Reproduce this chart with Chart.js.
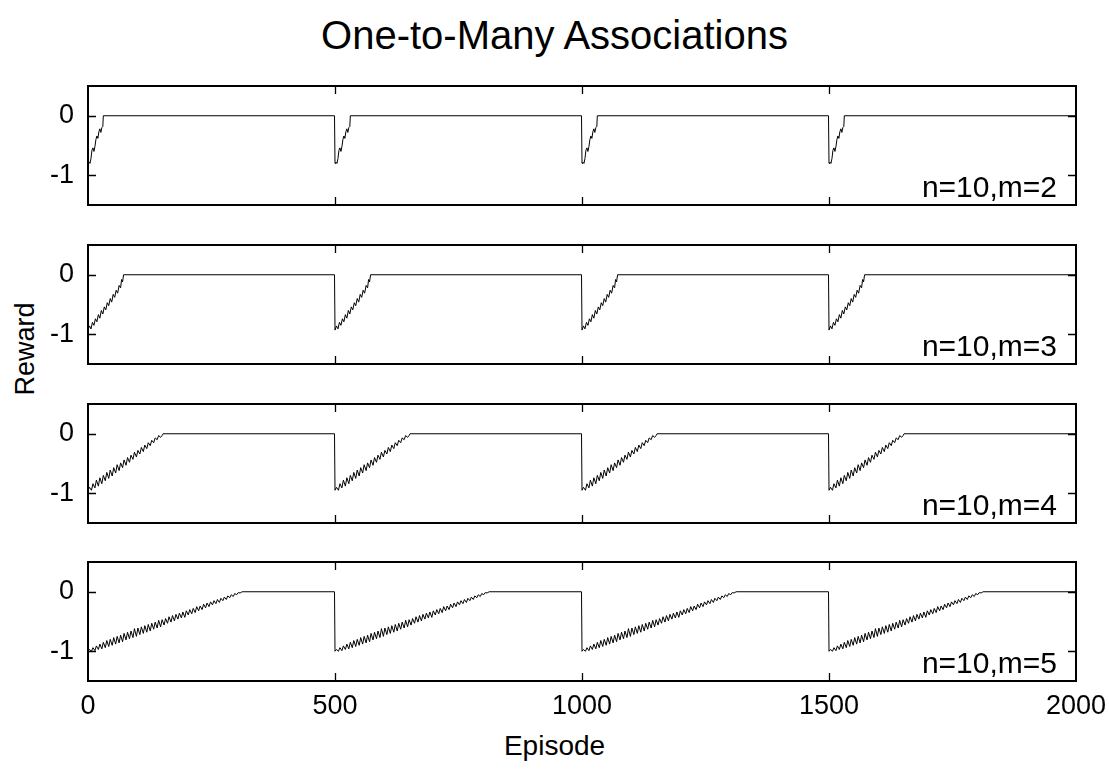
<!DOCTYPE html>
<html><head><meta charset="utf-8">
<script src="https://cdn.jsdelivr.net/npm/chart.js@4.4.1/dist/chart.umd.min.js"></script>
<style>
html,body{margin:0;padding:0;background:#fff;}
body{width:1109px;height:775px;position:relative;overflow:hidden;font-family:"Liberation Sans",Arial,sans-serif;}
canvas{position:absolute;left:0;}
.t{position:absolute;color:#000;white-space:nowrap;line-height:1;}
#title{font-size:40px;left:554.5px;top:15px;transform:translateX(-50%);}
#xlab{font-size:28px;left:554.5px;top:732px;transform:translateX(-50%);}
#ylab{font-size:27px;left:25px;top:349px;transform:translate(-50%,-50%) rotate(-90deg);}
</style></head><body>
<div class="t" id="title">One-to-Many Associations</div>
<div class="t" id="ylab">Reward</div>
<div class="t" id="xlab">Episode</div>
<canvas id="c0"></canvas>
<canvas id="c1"></canvas>
<canvas id="c2"></canvas>
<canvas id="c3"></canvas>
<script>
// ---- data ----
const blockStarts = [0, 500, 1000, 1500];
const episodeMax = 2000;
const xTickValues = [0, 500, 1000, 1500, 2000];
const yTickValues = [-1, 0];
const panelLabels = ["n=10,m=2", "n=10,m=3", "n=10,m=4", "n=10,m=5"];

// reward within one block (episode offset from block start)
const m2Offsets = [0,2,4,6,8,10,12,14,16,18,20,22,24,26,28,30,31];
const m2Rewards = [-0.80,-0.78,-0.80,-0.72,-0.58,-0.54,-0.60,-0.52,-0.40,-0.34,-0.38,-0.27,-0.22,-0.28,-0.20,-0.18,0];

const m3Offsets = [0,3,6,9,12,15,18,21,24,27,30,33,36,39,42,45,48,51,54,57,60,63,66,68,70,72];
const m3Rewards = [-0.93,-0.86,-0.91,-0.80,-0.85,-0.74,-0.79,-0.67,-0.73,-0.60,-0.66,-0.54,-0.59,-0.47,-0.52,-0.40,-0.46,-0.33,-0.38,-0.26,-0.31,-0.18,-0.22,-0.08,-0.12,0];

const m4Offsets = [0,3,7,10,14,17,21,24,28,31,35,38,42,45,49,52,56,59,63,66,70,73,77,80,84,87,91,94,98,101,105,108,112,115,119,122,126,129,133,136,140,143,147,150,152];
const m4Rewards = [-0.95,-0.90,-0.95,-0.84,-0.91,-0.78,-0.88,-0.74,-0.84,-0.70,-0.79,-0.65,-0.75,-0.61,-0.71,-0.57,-0.66,-0.52,-0.62,-0.49,-0.57,-0.44,-0.53,-0.40,-0.48,-0.36,-0.43,-0.31,-0.39,-0.28,-0.34,-0.23,-0.30,-0.19,-0.25,-0.15,-0.20,-0.11,-0.15,-0.07,-0.10,-0.03,-0.06,-0.03,0];

const m5Offsets = [0,3,7,10,14,17,21,24,28,31,35,38,42,45,49,52,56,59,63,66,70,73,77,80,84,87,91,94,98,101,105,108,112,115,119,122,126,129,133,136,140,143,147,150,154,157,161,164,168,171,175,178,182,185,189,192,196,199,203,206,210,213,217,220,224,227,231,234,238,241,245,248,252,255,259,262,266,269,273,276,280,283,287,290,294,297,301,304,308,312];
const m5Rewards = [-1.00,-0.97,-1.00,-0.94,-0.99,-0.91,-0.97,-0.88,-0.96,-0.85,
  -0.94,-0.82,-0.92,-0.80,-0.90,-0.77,-0.88,-0.75,-0.86,-0.73,
  -0.84,-0.70,-0.81,-0.68,-0.79,-0.66,-0.77,-0.62,-0.75,-0.61,
  -0.72,-0.59,-0.70,-0.57,-0.68,-0.55,-0.66,-0.53,-0.63,-0.51,
  -0.61,-0.48,-0.59,-0.47,-0.56,-0.45,-0.53,-0.42,-0.51,-0.40,
  -0.49,-0.38,-0.46,-0.36,-0.44,-0.34,-0.43,-0.32,-0.39,-0.30,
  -0.37,-0.28,-0.35,-0.25,-0.32,-0.24,-0.30,-0.21,-0.27,-0.19,
  -0.25,-0.17,-0.22,-0.15,-0.20,-0.13,-0.18,-0.11,-0.15,-0.09,
  -0.13,-0.07,-0.10,-0.05,-0.08,-0.03,-0.05,-0.015,-0.02,0];

const panelOffsets = [m2Offsets, m3Offsets, m4Offsets, m5Offsets];
const panelRewards = [m2Rewards, m3Rewards, m4Rewards, m5Rewards];

// ---- layout ----
const W = 1109;
const panelTops = [86, 245, 404, 562];
const panelH = 119;
const areaLeft = 88, areaRight = 1076;
const FONT = '"Liberation Sans", Arial, sans-serif';

function buildSeries(offs, rews) {
  const pts = [];
  blockStarts.forEach((b, k) => {
    if (k > 0) pts.push({x: b - 1, y: 0});
    for (let j = 0; j < offs.length; j++) pts.push({x: b + offs[j], y: rews[j]});
  });
  pts.push({x: episodeMax, y: 0});
  return pts;
}

const framePlugin = {
  id: 'frame',
  afterDraw(chart, args, opts) {
    const {ctx, chartArea: a, scales} = chart;
    ctx.save();
    ctx.strokeStyle = '#000';
    ctx.lineWidth = 1.3;
    const tl = 8;
    ctx.beginPath();
    xTickValues.forEach(v => {
      if (v <= 0 || v >= episodeMax) return;
      const px = Math.round(scales.x.getPixelForValue(v)) + 0.5;
      ctx.moveTo(px, a.bottom); ctx.lineTo(px, a.bottom - tl);
      ctx.moveTo(px, a.top); ctx.lineTo(px, a.top + tl);
    });
    yTickValues.forEach(v => {
      const py = Math.round(scales.y.getPixelForValue(v)) + 0.5;
      ctx.moveTo(a.left, py); ctx.lineTo(a.left + tl, py);
      ctx.moveTo(a.right, py); ctx.lineTo(a.right - tl, py);
    });
    ctx.stroke();
    ctx.lineWidth = 2;
    ctx.strokeRect(a.left, a.top, a.right - a.left, a.bottom - a.top);
    ctx.fillStyle = '#000';
    ctx.font = '30px ' + FONT;
    ctx.textAlign = 'right';
    ctx.textBaseline = 'alphabetic';
    ctx.fillText(opts.label, a.right - 19, a.bottom - 8);
    ctx.restore();
  }
};

panelTops.forEach((top, i) => {
  const isLast = i === panelTops.length - 1;
  const cv = document.getElementById('c' + i);
  const padTop = 10;
  const xAxisH = 46;
  const cvTop = top - padTop;
  const cvH = isLast ? (775 - cvTop) : (panelH + 2 * padTop);
  const padBottom = isLast ? (cvH - padTop - panelH - xAxisH) : padTop;
  cv.width = W; cv.height = cvH;
  cv.style.top = cvTop + 'px';
  cv.style.width = W + 'px'; cv.style.height = cvH + 'px';

  new Chart(cv, {
    type: 'line',
    data: {
      datasets: [{
        data: buildSeries(panelOffsets[i], panelRewards[i]),
        borderColor: '#000',
        borderWidth: 1,
        pointRadius: 0,
        tension: 0,
        fill: false
      }]
    },
    options: {
      responsive: false,
      maintainAspectRatio: false,
      animation: false,
      devicePixelRatio: 1,
      events: [],
      layout: {padding: {top: padTop, bottom: padBottom, left: 0, right: W - areaRight}},
      plugins: {legend: {display: false}, tooltip: {enabled: false}, frame: {label: panelLabels[i]}},
      scales: {
        x: {
          type: 'linear', min: 0, max: episodeMax,
          display: isLast,
          grid: {display: false, drawTicks: false},
          border: {display: false},
          afterBuildTicks: s => { s.ticks = xTickValues.map(v => ({value: v})); },
          afterFit: s => { s.height = isLast ? xAxisH : 0; s.paddingLeft = 0; s.paddingRight = 0; s.paddingTop = 0; s.paddingBottom = 0; },
          ticks: {color: '#000', font: {size: 27, family: FONT}, padding: 9, maxRotation: 0, autoSkip: false,
                  callback: v => String(v)}
        },
        y: {
          type: 'linear', min: -1.5, max: 0.5,
          grid: {display: false, drawTicks: false},
          border: {display: false},
          afterBuildTicks: s => { s.ticks = yTickValues.map(v => ({value: v})); },
          afterFit: s => { s.width = areaLeft; s.paddingTop = 0; s.paddingBottom = 0; s.paddingLeft = 0; s.paddingRight = 0; },
          ticks: {color: '#000', font: {size: 27, family: FONT}, padding: 14, callback: v => String(v)}
        }
      }
    },
    plugins: [framePlugin]
  });
});
</script>
</body></html>
